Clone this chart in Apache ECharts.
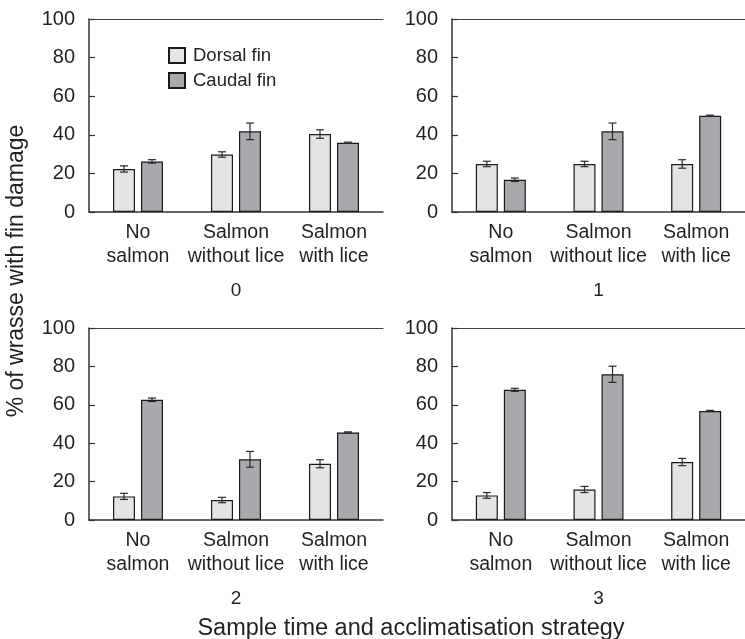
<!DOCTYPE html>
<html>
<head>
<meta charset="utf-8">
<script src="https://cdn.jsdelivr.net/npm/echarts@6/dist/echarts.min.js"></script>
<style>
html,body{margin:0;padding:0;background:#fff;}
#chart{width:745px;height:639px;}
</style>
</head>
<body>
<div id="chart"></div>
<script>
const categories = ['No\nsalmon', 'Salmon\nwithout lice', 'Salmon\nwith lice'];
const panelLabels = ['0', '1', '2', '3'];
const yTicks = [0, 20, 40, 60, 80, 100];
const seriesNames = ['Dorsal fin', 'Caudal fin'];

const dorsal0 = [22.3, 29.8, 40.4];
const dorsalErr0 = [1.6, 1.4, 2.2];
const caudal0 = [26.2, 41.8, 35.9];
const caudalErr0 = [0.9, 4.3, 0.3];

const dorsal1 = [24.9, 24.9, 24.9];
const dorsalErr1 = [1.4, 1.4, 2.2];
const caudal1 = [16.7, 41.8, 49.9];
const caudalErr1 = [0.9, 4.3, 0.3];

const dorsal2 = [12.3, 10.4, 29.3];
const dorsalErr2 = [1.6, 1.4, 2.1];
const caudal2 = [62.6, 31.6, 45.6];
const caudalErr2 = [0.9, 4.1, 0.3];

const dorsal3 = [12.8, 15.9, 30.2];
const dorsalErr3 = [1.5, 1.6, 1.9];
const caudal3 = [67.8, 75.9, 56.8];
const caudalErr3 = [0.8, 4.2, 0.3];

const dorsalAll = [dorsal0, dorsal1, dorsal2, dorsal3];
const dorsalErrAll = [dorsalErr0, dorsalErr1, dorsalErr2, dorsalErr3];
const caudalAll = [caudal0, caudal1, caudal2, caudal3];
const caudalErrAll = [caudalErr0, caudalErr1, caudalErr2, caudalErr3];

const FONT = "'Liberation Sans', Arial, Helvetica, sans-serif";
const TXT = '#231f20';
const AX = '#333';
const BAR_W = 22;
const BAR_GAP = 6;
const OFF = (BAR_W + BAR_GAP) / 2;

const grids = [
  {left: 89, top: 19, width: 294, height: 193},
  {left: 452, top: 19, width: 294, height: 193},
  {left: 89, top: 328, width: 294, height: 192},
  {left: 452, top: 328, width: 294, height: 192}
];

const xAxes = [], yAxes = [], series = [];
grids.forEach((g, i) => {
  xAxes.push({
    gridIndex: i, type: 'category', data: categories, position: 'bottom',
    axisLine: {show: true, lineStyle: {color: AX, width: 1.5}},
    axisTick: {show: false},
    axisLabel: {color: TXT, fontSize: 19.5, fontFamily: FONT, lineHeight: 23.5, margin: 9, interval: 0},
    name: panelLabels[i], nameLocation: 'middle', nameGap: 69,
    nameTextStyle: {color: TXT, fontSize: 19, fontFamily: FONT, verticalAlign: 'top'}
  });
  xAxes.push({
    gridIndex: i, type: 'category', data: categories, position: 'top',
    axisLine: {show: true, lineStyle: {color: '#444', width: 1.2}},
    axisTick: {show: false}, axisLabel: {show: false}
  });
  yAxes.push({
    gridIndex: i, type: 'value', min: yTicks[0], max: yTicks[yTicks.length - 1], interval: yTicks[1] - yTicks[0],
    axisLine: {show: true, lineStyle: {color: AX, width: 1.5}},
    axisTick: {show: true, inside: true, length: 6, lineStyle: {color: AX, width: 1.2}},
    axisLabel: {color: TXT, fontSize: 20, fontFamily: FONT, margin: 14},
    splitLine: {show: false}
  });
  const xi = i * 2;
  series.push({
    name: seriesNames[0], type: 'bar', xAxisIndex: xi, yAxisIndex: i,
    data: dorsalAll[i], barWidth: BAR_W, barGap: (BAR_GAP / BAR_W * 100) + '%',
    itemStyle: {color: '#e3e4e6', borderColor: '#1a1a1a', borderWidth: 1.2}
  });
  series.push({
    name: seriesNames[1], type: 'bar', xAxisIndex: xi, yAxisIndex: i,
    data: caudalAll[i], barWidth: BAR_W, barGap: (BAR_GAP / BAR_W * 100) + '%',
    itemStyle: {color: '#a8a9ad', borderColor: '#1a1a1a', borderWidth: 1.2}
  });
  [[dorsalAll[i], dorsalErrAll[i], -OFF], [caudalAll[i], caudalErrAll[i], OFF]].forEach(([vals, errs, off]) => {
    series.push({
      type: 'custom', xAxisIndex: xi, yAxisIndex: i, z: 10, silent: true,
      data: vals.map((v, k) => [k, v, errs[k]]),
      renderItem: function (params, api) {
        const k = api.value(0), v = api.value(1), e = api.value(2);
        const hi = api.coord([k, v + e]);
        const lo = api.coord([k, v - e]);
        const x = hi[0] + off;
        const st = {stroke: '#2a2a2a', lineWidth: 1.2};
        return {
          type: 'group',
          children: [
            {type: 'line', shape: {x1: x, y1: hi[1], x2: x, y2: lo[1]}, style: st},
            {type: 'line', shape: {x1: x - 4, y1: hi[1], x2: x + 4, y2: hi[1]}, style: st},
            {type: 'line', shape: {x1: x - 4, y1: lo[1], x2: x + 4, y2: lo[1]}, style: st}
          ]
        };
      }
    });
  });
});

const chart = echarts.init(document.getElementById('chart'), null, {renderer: 'canvas'});
chart.setOption({
  backgroundColor: '#fff',
  animation: false,
  grid: grids,
  xAxis: xAxes,
  yAxis: yAxes,
  legend: {
    data: seriesNames, orient: 'vertical', left: 163, top: 41,
    itemWidth: 16, itemHeight: 15, itemGap: 6, icon: 'rect',
    textStyle: {color: TXT, fontSize: 18.5, fontFamily: FONT, padding: [0, 0, 0, 3]}
  },
  title: {
    text: 'Sample time and acclimatisation strategy', left: 406, top: 612, textAlign: 'center',
    textStyle: {color: TXT, fontSize: 23.5, fontWeight: 'normal', fontFamily: FONT}
  },
  graphic: [{
    type: 'text', x: 17, y: 271, rotation: Math.PI / 2,
    style: {text: '% of wrasse with fin damage', fill: TXT, fontSize: 23, fontFamily: FONT, textAlign: 'center', textVerticalAlign: 'middle'}
  }],
  series: series
});
</script>
</body>
</html>
